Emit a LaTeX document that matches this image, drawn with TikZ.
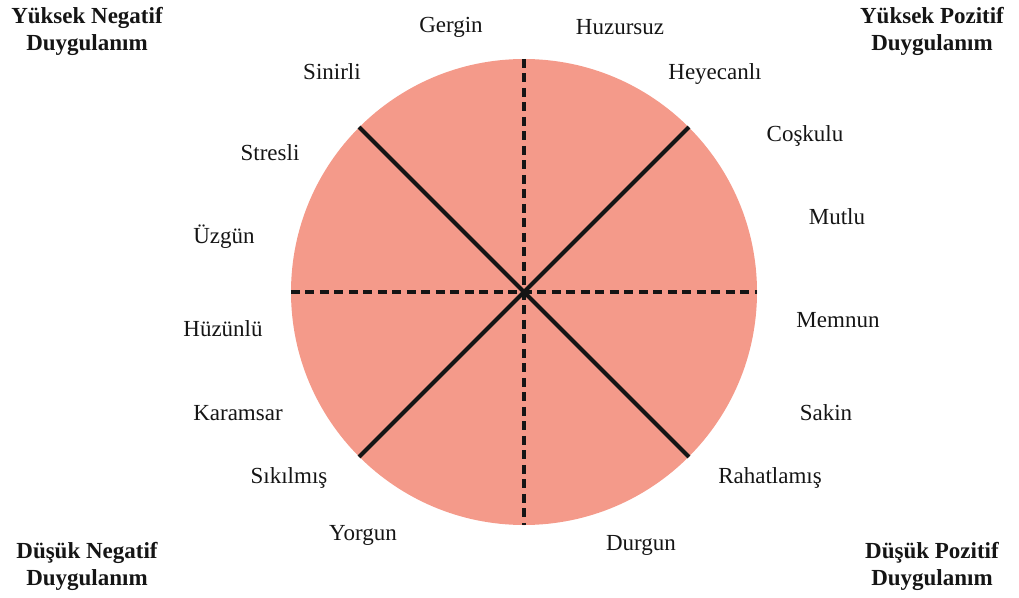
\documentclass[tikz,border=0pt]{standalone}
\usepackage{fontspec}
\setmainfont{Liberation Serif}
\definecolor{wheel}{HTML}{F49A8A}
\definecolor{ink}{HTML}{151515}
\begin{document}
\begin{tikzpicture}[x=1pt,y=-1pt,
  lbl/.style={font=\fontsize{23}{27}\selectfont, inner sep=0pt, text=ink},
  corner/.style={font=\fontsize{23}{27}\selectfont\bfseries, inner sep=0pt, align=center, text=ink},
  solidline/.style={draw=ink, line width=4.2pt},
  dashline/.style={draw=ink, line width=3.2pt, dash pattern=on 9pt off 5.5pt}]
\useasboundingbox (0,0) rectangle (1019,597);
\node[circle, fill=wheel, minimum size=466pt, inner sep=0pt] (c) at (524,292) {};
\draw[dashline] (c.north) -- (c.south);
\draw[dashline] (c.west) -- (c.east);
\draw[solidline] (c.135) -- (c.-45);
\draw[solidline] (c.45) -- (c.-135);
\node[lbl] (gergin) at (451,27) {Gergin};
\node[lbl] (huzursuz) at (620,27) {Huzursuz};
\node[lbl] (heyecanli) at (715,74) {Heyecanlı};
\node[lbl] (coskulu) at (805,136) {Coşkulu};
\node[lbl] (mutlu) at (837,217) {Mutlu};
\node[lbl] (memnun) at (838,320) {Memnun};
\node[lbl] (sakin) at (826,413) {Sakin};
\node[lbl] (rahatlamis) at (770,478) {Rahatlamış};
\node[lbl] (durgun) at (641,545) {Durgun};
\node[lbl] (yorgun) at (363,535) {Yorgun};
\node[lbl] (sikilmis) at (289,478) {Sıkılmış};
\node[lbl] (karamsar) at (238,413) {Karamsar};
\node[lbl] (huzunlu) at (223,329) {Hüzünlü};
\node[lbl] (uzgun) at (224,237) {Üzgün};
\node[lbl] (stresli) at (270,153) {Stresli};
\node[lbl] (sinirli) at (332,72) {Sinirli};
\node[corner] (hn) at (87,31) {Yüksek Negatif\\Duygulanım};
\node[corner] (hp) at (932,31) {Yüksek Pozitif\\Duygulanım};
\node[corner] (ln) at (87,566) {Düşük Negatif\\Duygulanım};
\node[corner] (lp) at (932,566) {Düşük Pozitif\\Duygulanım};
\end{tikzpicture}
\end{document}
